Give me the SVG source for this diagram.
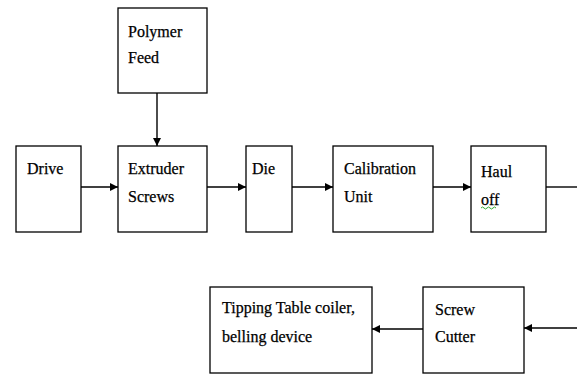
<svg xmlns="http://www.w3.org/2000/svg" width="577" height="374" viewBox="0 0 577 374">
<style>
.box{fill:#fff;stroke:#000;stroke-width:1.3}
.t{font-family:'Liberation Serif','DejaVu Serif',serif;font-size:16px;fill:#000;stroke:#000;stroke-width:0.25}
.c{stroke:#000;stroke-width:1.4;fill:none}
</style>
<defs>
<marker id="ah" markerWidth="8" markerHeight="8" refX="8" refY="4" orient="auto" markerUnits="userSpaceOnUse">
<path d="M0,0 L8,4 L0,8 Z" fill="#000"/>
</marker>
</defs>
<rect width="577" height="374" fill="#fff"/>
<g id="polymer-feed"><rect class="box" x="118" y="8" width="89" height="85"/><text class="t" x="128" y="37">Polymer</text><text class="t" x="128" y="63">Feed</text></g>
<g id="drive"><rect class="box" x="16" y="146" width="65" height="86"/><text class="t" x="27" y="174">Drive</text></g>
<g id="extruder"><rect class="box" x="118" y="146" width="89" height="86"/><text class="t" x="128" y="174">Extruder</text><text class="t" x="128" y="202">Screws</text></g>
<g id="die"><rect class="box" x="246" y="146" width="46" height="86"/><text class="t" x="252" y="174">Die</text></g>
<g id="calibration"><rect class="box" x="333" y="146" width="100" height="86"/><text class="t" x="344" y="174">Calibration</text><text class="t" x="344" y="202">Unit</text></g>
<g id="haul-off"><rect class="box" x="471" y="146" width="75" height="86"/><text class="t" x="481" y="177">Haul</text><text class="t" x="481" y="205">off</text><path d="M481,208 q1.5,-2 3,0 t3,0 t3,0 t3,0 t3,0" fill="none" stroke="#3a3" stroke-width="1"/></g>
<g id="tipping"><rect class="box" x="210" y="287" width="162" height="86"/><text class="t" x="222" y="313">Tipping Table coiler,</text><text class="t" x="222" y="342">belling device</text></g>
<g id="screw-cutter"><rect class="box" x="423" y="287" width="101" height="86"/><text class="t" x="435" y="315">Screw</text><text class="t" x="435" y="342">Cutter</text></g>
<g id="connectors">
<line class="c" x1="157" y1="93" x2="157" y2="146" marker-end="url(#ah)"/>
<line class="c" x1="81" y1="187" x2="118" y2="187" marker-end="url(#ah)"/>
<line class="c" x1="207" y1="187" x2="246" y2="187" marker-end="url(#ah)"/>
<line class="c" x1="292" y1="187" x2="333" y2="187" marker-end="url(#ah)"/>
<line class="c" x1="433" y1="187" x2="471" y2="187" marker-end="url(#ah)"/>
<line class="c" x1="546" y1="187" x2="577" y2="187"/>
<line class="c" x1="577" y1="328" x2="524" y2="328" marker-end="url(#ah)"/>
<line class="c" x1="423" y1="329" x2="372" y2="329" marker-end="url(#ah)"/>
</g>
</svg>
